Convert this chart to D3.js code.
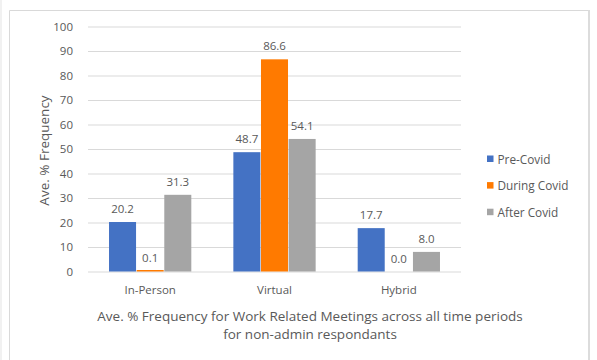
<!DOCTYPE html>
<html>
<head>
<meta charset="utf-8">
<script src="https://cdn.jsdelivr.net/npm/d3@7"></script>
<style>
  html, body { margin: 0; padding: 0; background: #fff; }
  svg { display: block; }
  text { font-family: "Open Sans", "Liberation Sans", sans-serif; fill: #595959; }
</style>
</head>
<body>
<svg id="chart" width="597" height="360"></svg>
<script>
const categories = ["In-Person", "Virtual", "Hybrid"];
const seriesNames = ["Pre-Covid", "During Covid", "After Covid"];
const preCovid = [20.2, 48.7, 17.7];
const duringCovid = [0.1, 86.6, 0.0];
const afterCovid = [31.3, 54.1, 8.0];
const yTicks = [0, 10, 20, 30, 40, 50, 60, 70, 80, 90, 100];
const colors = ["#4472C4", "#FF7A00", "#A5A5A5"];
const xTitleLines = ["Ave. % Frequency for Work Related Meetings across all time periods", "for non-admin respondants"];
const yTitle = "Ave. % Frequency";

const series = [preCovid, duringCovid, afterCovid];
const svg = d3.select("#chart");

// frame
svg.append("line").attr("x1", 1).attr("x2", 1).attr("y1", 0).attr("y2", 360)
  .attr("stroke", "#e3e3e3").attr("stroke-width", 1);
svg.append("path").attr("d", "M9.5,360 V10.5 H588.5 V360")
  .attr("fill", "none").attr("stroke", "#d9d9d9").attr("stroke-width", 1);
svg.append("line").attr("x1", 589).attr("x2", 589).attr("y1", 10).attr("y2", 360)
  .attr("stroke", "#dcdcdc").attr("stroke-width", 2);

const pLeft = 88, pRight = 461, pTop = 26.5, pBottom = 271.5;

const y = d3.scaleLinear().domain([0, 100]).range([pBottom, pTop]);
const x0 = d3.scaleBand().domain(categories).range([pLeft, pRight]).paddingInner(1 / 3).paddingOuter(1 / 6);
const x1 = d3.scaleBand().domain(seriesNames).range([0, x0.bandwidth()]);

// gridlines + y ticks
const gAxis = svg.append("g").attr("transform", `translate(${pLeft},0)`)
  .call(d3.axisLeft(y).tickValues(yTicks).tickSize(-(pRight - pLeft)).tickPadding(15).tickFormat(d3.format("d")));
gAxis.select(".domain").remove();
gAxis.selectAll(".tick line").attr("stroke", "#d9d9d9").attr("stroke-width", 1);
gAxis.selectAll(".tick text").style("font-size", "11.5px").attr("fill", "#595959");

// bars
categories.forEach((c, ci) => {
  seriesNames.forEach((s, si) => {
    const v = series[si][ci];
    const bx = x0(c) + x1(s);
    const h = v > 0 ? Math.max(1.5, pBottom - y(v)) : 0;
    svg.append("rect")
      .attr("x", bx + 0.3).attr("y", pBottom - h)
      .attr("width", x1.bandwidth() - 0.6).attr("height", h)
      .attr("fill", colors[si]);
    svg.append("text")
      .attr("x", bx + x1.bandwidth() / 2)
      .attr("y", y(v) - 9)
      .attr("text-anchor", "middle")
      .style("font-size", "11.5px")
      .text(v.toFixed(1));
  });
});

// category axis
const gx = svg.append("g").attr("transform", `translate(0,${pBottom})`)
  .call(d3.axisBottom(x0).tickSize(0).tickPadding(14));
gx.select(".domain").remove();
gx.selectAll(".tick text").style("font-size", "11.5px").attr("fill", "#595959");

// x title
svg.append("text").attr("text-anchor", "middle")
  .style("font-size", "13.5px")
  .selectAll("tspan").data(xTitleLines).enter().append("tspan")
  .attr("x", 310).attr("y", (d, i) => 320.5 + i * 18.5).text(d => d);

// y title
svg.append("text").attr("transform", "translate(49,150.5) rotate(-90)")
  .attr("text-anchor", "middle").style("font-size", "13.5px").text(yTitle);

// legend
const legend = svg.append("g").attr("transform", "translate(487,0)");
seriesNames.forEach((s, i) => {
  const ly = 159 + i * 26.6;
  legend.append("rect").attr("x", 0).attr("y", ly - 3.5).attr("width", 6.5).attr("height", 6.5).attr("fill", colors[i]);
  legend.append("text").attr("x", 10.5).attr("y", ly + 4.5).style("font-size", "11.8px").text(s);
});
</script>
</body>
</html>
